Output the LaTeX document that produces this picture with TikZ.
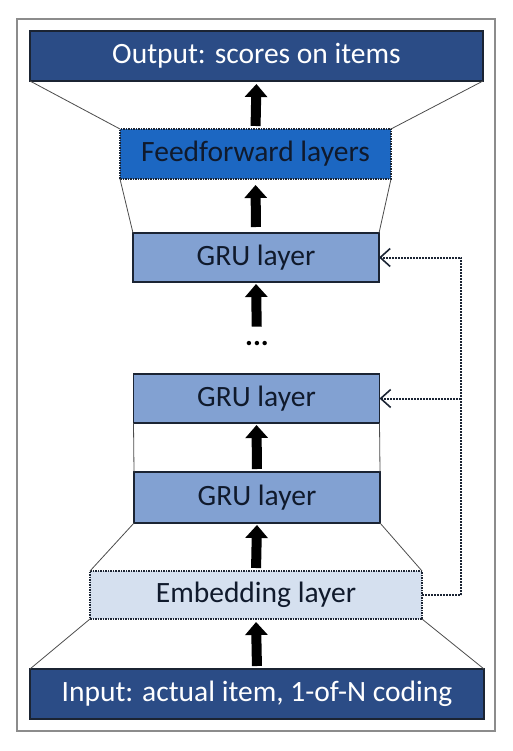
\documentclass[tikz,border=0pt]{standalone}
\usepackage{fontspec}
\setmainfont{Carlito}
\usepackage{tikz}
\usetikzlibrary{arrows.meta}
\usepackage{xcolor}

\definecolor{darkband}{HTML}{2B4C86}
\definecolor{ffblue}{HTML}{1C67C2}
\definecolor{grublue}{HTML}{82A1D2}
\definecolor{embblue}{HTML}{D5E0EF}
\definecolor{edge}{HTML}{1B2433}
\definecolor{inktext}{HTML}{101A2C}

\tikzset{
  layer/.style={inner sep=0pt, outer sep=0pt, draw=edge, line width=1.5pt,
    font=\fontsize{29.5}{32}\selectfont, text=inktext},
  band/.style={layer, fill=darkband, text=white, minimum width=453pt, minimum height=50pt},
  grubox/.style={layer, fill=grublue, minimum width=246pt, minimum height=49pt},
  bigarrow/.style={line width=10pt, -{Triangle[length=13pt,width=22pt]},
    shorten <=3pt, shorten >=3pt},
  funnel/.style={line width=0.8pt, draw=black!70},
  fbline/.style={dash pattern=on 1.6pt off 1.4pt, line width=2pt, draw=edge},
  fbtip/.style={fbline, -{Straight Barb[length=10pt,width=18pt,line width=1.6pt]}}
}

\begin{document}
\begin{tikzpicture}[x=1pt,y=-1pt]

    \useasboundingbox (0,0) rectangle (513,751);
    \draw[line width=1.5pt, draw=black!45] (17,19) rectangle (495,731);

    % layers, top to bottom
    \node[band] (output) at (256.5,56) {Output: scores on items};
    \node[layer, fill=ffblue, densely dotted, minimum width=271pt, minimum height=50pt]
      (ffwd) at (255.5,154) {Feedforward layers};
    \node[grubox] (gruC) at (256,257.5) {GRU layer};
    \node[inner sep=0pt, font=\fontsize{29.5}{32}\selectfont\bfseries] (dots) at (257,344) {...};
    \node[grubox] (gruB) at (256.5,398.5) {GRU layer};
    \node[grubox, minimum height=51pt] (gruA) at (257,497.5) {GRU layer};
    \node[layer, fill=embblue, densely dotted, minimum width=332pt, minimum height=48pt]
      (embed) at (256,595) {Embedding layer};
    \node[band, minimum width=454pt] (input) at (257,694) {Input: actual item, 1-of-N coding};

    % funnel sides
    \draw[funnel] (output.south west) -- (ffwd.north west);
    \draw[funnel] (output.south east) -- (ffwd.north east);
    \draw[funnel] (ffwd.south west) -- (gruC.north west);
    \draw[funnel] (ffwd.south east) -- (gruC.north east);
    \draw[funnel] (gruB.south west) -- (gruA.north west);
    \draw[funnel] (gruB.south east) -- (gruA.north east);
    \draw[funnel] (gruA.south west) -- (embed.north west);
    \draw[funnel] (gruA.south east) -- (embed.north east);
    \draw[funnel] (embed.south west) -- (input.north west);
    \draw[funnel] (embed.south east) -- (input.north east);

    % forward flow
    \draw[bigarrow] (ffwd.north) -- (output.south);
    \draw[bigarrow, shorten <=6pt, shorten >=6pt] (gruC.north) -- (ffwd.south);
    \draw[bigarrow, shorten <=15pt, shorten >=2pt] (dots.north) -- (gruC.south);
    \draw[bigarrow, shorten >=2pt] (gruA.north) -- (gruB.south);
    \draw[bigarrow, shorten >=2pt] (embed.north) -- (gruA.south);
    \draw[bigarrow] (input.north) -- (embed.south);

    % embedding fed to every GRU layer
    \draw[fbline] (embed.east) -- ++(39,0) coordinate (turn);
    \draw[fbtip] (turn) |- (gruC.east);
    \draw[fbtip] (turn |- gruB.east) -- (gruB.east);

\end{tikzpicture}
\end{document}
